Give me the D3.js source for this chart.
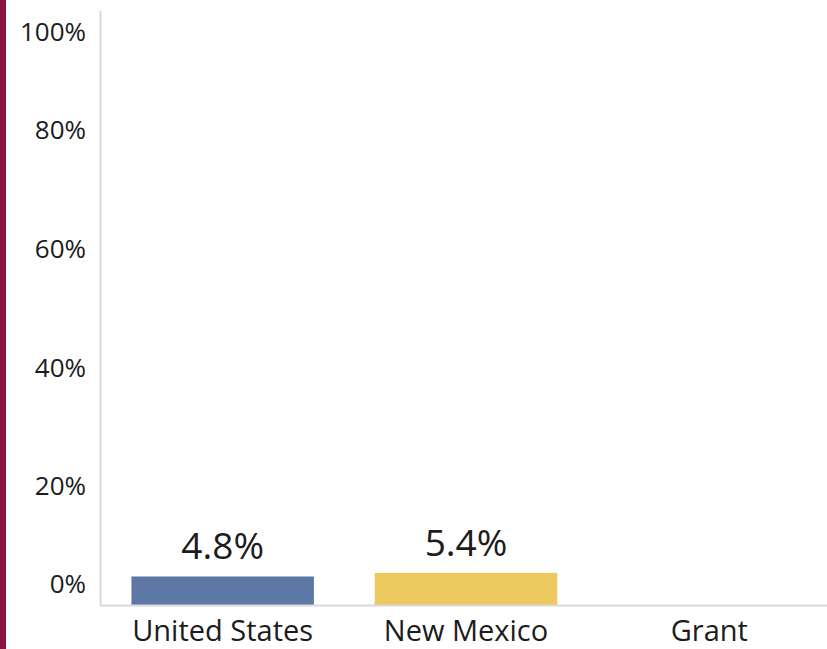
<!doctype HTML>
<html>
<head>
    <style>
        body { margin: 0; background: white; }
        text { font-family: "Open Sans", "Noto Sans", sans-serif; fill: #1c1c1c; }
    </style>
    <script src="https://d3js.org/d3.v7.min.js"></script>
</head>
<body>
<script>
    var categories = ["United States", "New Mexico", "Grant"];
    var values = [4.8, 5.4, null];
    var barColors = ["#5e78a6", "#ebc95e", "#999999"];
    var yTicks = [0, 20, 40, 60, 80, 100];

    var canvasWidth = 827;
    var canvasHeight = 649;

    var svg = d3.select("body").append("svg")
        .attr("width", canvasWidth)
        .attr("height", canvasHeight);

    // maroon strip on the left edge
    svg.append("rect")
        .attr("x", 0).attr("y", 0)
        .attr("width", 6).attr("height", canvasHeight)
        .attr("fill", "#8c1046");

    var xScale = d3.scaleBand().domain(categories).range([101, 831]).paddingInner(0.25).paddingOuter(0.125);
    var yScale = d3.scaleLinear().domain([0, 100]).range([605, 11]);

    // bars
    svg.selectAll(".bar")
        .data(categories.map(function(c, i) { return {cat: c, val: values[i], color: barColors[i]}; })
            .filter(function(d) { return d.val != null; }))
        .enter().append("rect")
        .attr("class", "bar")
        .attr("x", function(d) { return xScale(d.cat); })
        .attr("y", function(d) { return yScale(d.val); })
        .attr("width", xScale.bandwidth())
        .attr("height", function(d) { return yScale(0) - yScale(d.val); })
        .attr("fill", function(d) { return d.color; });

    // value labels
    svg.selectAll(".val")
        .data(categories.map(function(c, i) { return {cat: c, val: values[i]}; })
            .filter(function(d) { return d.val != null; }))
        .enter().append("text")
        .attr("class", "val")
        .attr("x", function(d) { return xScale(d.cat) + xScale.bandwidth() / 2; })
        .attr("y", function(d) { return yScale(d.val) - 17; })
        .attr("text-anchor", "middle")
        .attr("font-size", "37px")
        .text(function(d) { return d.val.toFixed(1) + "%"; });

    // y axis line
    svg.append("line")
        .attr("x1", 100.5).attr("x2", 100.5)
        .attr("y1", yScale(100)).attr("y2", yScale(0))
        .attr("stroke", "#d9d9d9").attr("stroke-width", 2);

    // x axis line
    svg.append("line")
        .attr("x1", 100).attr("x2", canvasWidth)
        .attr("y1", yScale(0) + 0.5).attr("y2", yScale(0) + 0.5)
        .attr("stroke", "#d9d9d9").attr("stroke-width", 2);

    // y tick labels (first and last pushed inward like the original)
    svg.selectAll(".ytick")
        .data(yTicks)
        .enter().append("text")
        .attr("class", "ytick")
        .attr("x", 86)
        .attr("y", function(d) {
            var off = d == 0 ? -21 : (d == 100 ? 21 : 0);
            return yScale(d) + off;
        })
        .attr("dy", "0.35em")
        .attr("text-anchor", "end")
        .attr("font-size", "26px")
        .text(function(d) { return d + "%"; });

    // category labels
    svg.selectAll(".xlab")
        .data(categories)
        .enter().append("text")
        .attr("class", "xlab")
        .attr("x", function(d) { return xScale(d) + xScale.bandwidth() / 2; })
        .attr("y", 641)
        .attr("text-anchor", "middle")
        .attr("font-size", "29px")
        .text(function(d) { return d; });
</script>
</body>
</html>
